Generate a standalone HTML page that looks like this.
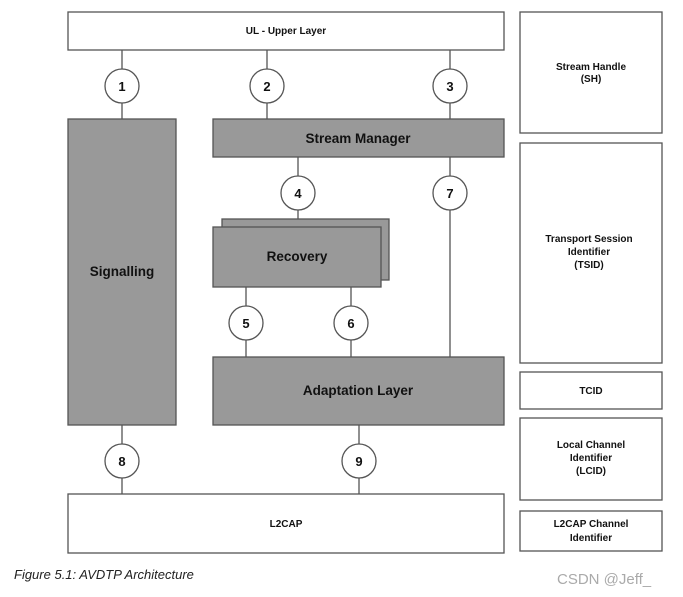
<!DOCTYPE html>
<html><head><style>
body{margin:0;background:#fff;}
</style></head><body>
<svg width="683" height="597" xmlns="http://www.w3.org/2000/svg" style="display:block;font-family:'Liberation Sans',Arial,sans-serif;font-weight:bold">
<g stroke="#555" stroke-width="1.3">
<line x1="122" y1="50" x2="122" y2="119"/>
<line x1="267" y1="50" x2="267" y2="119"/>
<line x1="450" y1="50" x2="450" y2="119"/>
<line x1="298" y1="157" x2="298" y2="227"/>
<line x1="450" y1="157" x2="450" y2="357"/>
<line x1="246" y1="287" x2="246" y2="357"/>
<line x1="351" y1="287" x2="351" y2="357"/>
<line x1="122" y1="425" x2="122" y2="494"/>
<line x1="359" y1="425" x2="359" y2="494"/>
<rect x="68" y="12" width="436" height="38" fill="#fff"/>
<rect x="68" y="119" width="108" height="306" fill="#999"/>
<rect x="213" y="119" width="291" height="38" fill="#999"/>
<rect x="222" y="219" width="167" height="61" fill="#999"/>
<rect x="213" y="227" width="168" height="60" fill="#999"/>
<rect x="213" y="357" width="291" height="68" fill="#999"/>
<rect x="68" y="494" width="436" height="59" fill="#fff"/>
<rect x="520" y="12" width="142" height="121" fill="#fff"/>
<rect x="520" y="143" width="142" height="220" fill="#fff"/>
<rect x="520" y="372" width="142" height="37" fill="#fff"/>
<rect x="520" y="418" width="142" height="82" fill="#fff"/>
<rect x="520" y="511" width="142" height="40" fill="#fff"/>
<g fill="#fff">
<circle cx="122" cy="86" r="17"/><circle cx="267" cy="86" r="17"/><circle cx="450" cy="86" r="17"/>
<circle cx="298" cy="193" r="17"/><circle cx="450" cy="193" r="17"/>
<circle cx="246" cy="323" r="17"/><circle cx="351" cy="323" r="17"/>
<circle cx="122" cy="461" r="17"/><circle cx="359" cy="461" r="17"/>
</g>
</g>
<g text-anchor="middle" fill="#111" font-size="13">
<text x="122" y="91">1</text><text x="267" y="91">2</text><text x="450" y="91">3</text>
<text x="298" y="198">4</text><text x="450" y="198">7</text>
<text x="246" y="328">5</text><text x="351" y="328">6</text>
<text x="122" y="466">8</text><text x="359" y="466">9</text>
<text x="358" y="143" font-size="13.5">Stream Manager</text>
<text x="297" y="261" font-size="13.5">Recovery</text>
<text x="122" y="276" font-size="13.5">Signalling</text>
<text x="358" y="395" font-size="13.5">Adaptation Layer</text>
<g font-size="10">
<text x="286" y="34">UL - Upper Layer</text>
<text x="286" y="527">L2CAP</text>
<text x="591" y="70">Stream Handle</text><text x="591" y="82">(SH)</text>
<text x="589" y="242">Transport Session</text><text x="589" y="255">Identifier</text><text x="589" y="268">(TSID)</text>
<text x="591" y="394">TCID</text>
<text x="591" y="448">Local Channel</text><text x="591" y="461">Identifier</text><text x="591" y="474">(LCID)</text>
<text x="591" y="527">L2CAP Channel</text><text x="591" y="541">Identifier</text>
</g>
</g>
<text x="14" y="579" font-size="13" font-style="italic" font-weight="normal" fill="#222">Figure 5.1: AVDTP Architecture</text>
<text x="557" y="584" font-size="15" font-weight="normal" fill="#aaa">CSDN @Jeff_</text>
</svg>
</body></html>
